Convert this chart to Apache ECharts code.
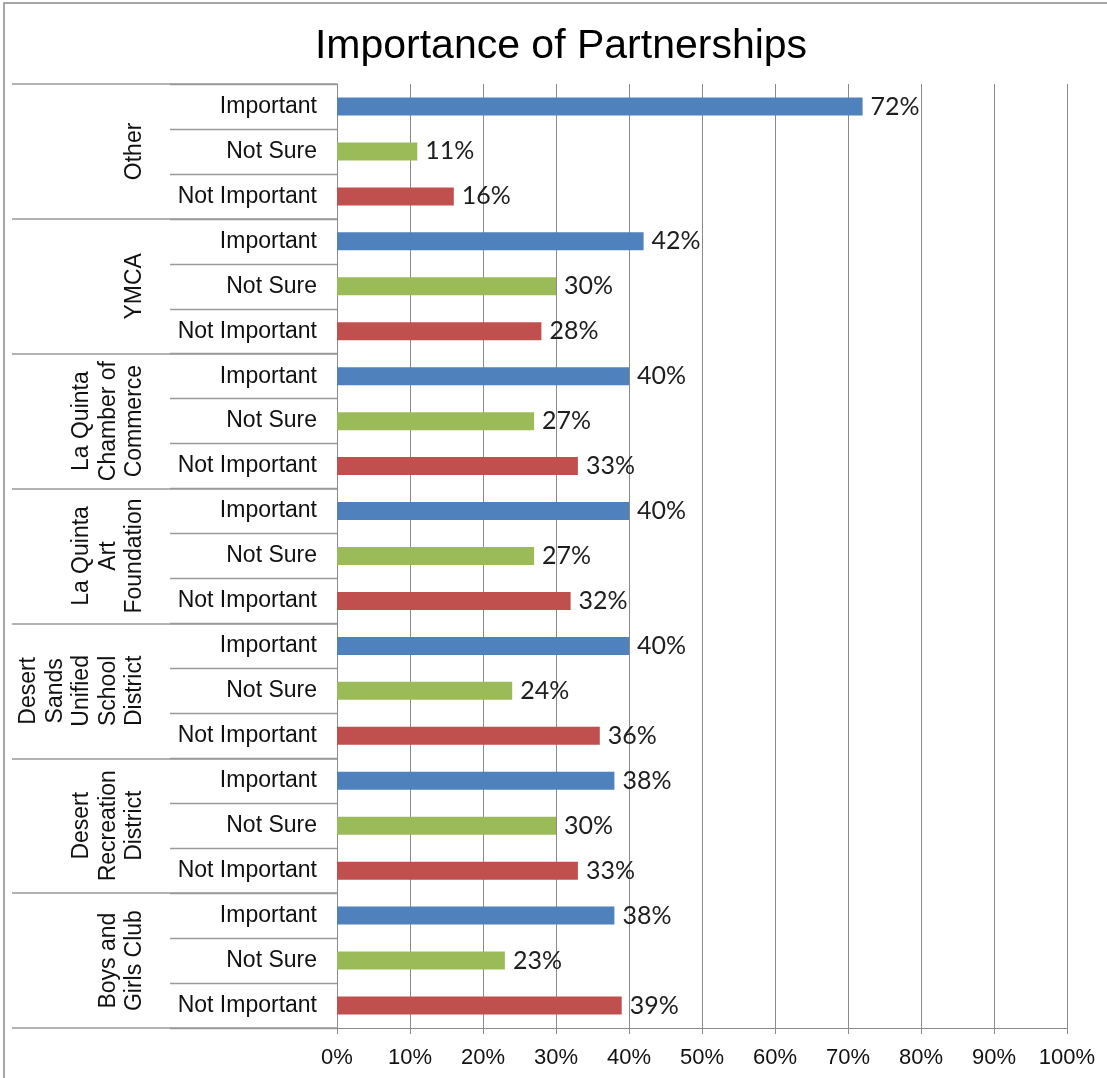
<!DOCTYPE html>
<html>
<head>
<meta charset="utf-8">
<script src="https://cdn.jsdelivr.net/npm/echarts@6/dist/echarts.min.js"></script>
<style>
html,body{margin:0;padding:0;background:#fff;}
#chart{width:1107px;height:1078px;}
</style>
</head>
<body>
<div id="chart"></div>
<script>
// Data (top to bottom)
var groups = ['Other', 'YMCA', 'La Quinta\nChamber of\nCommerce', 'La Quinta\nArt\nFoundation',
  'Desert\nSands\nUnified\nSchool\nDistrict', 'Desert\nRecreation\nDistrict', 'Boys and\nGirls Club'];
var responses = ['Important', 'Not Sure', 'Not Important'];
var important    = [72, 42, 40, 40, 40, 38, 38];
var notSure      = [11, 30, 27, 27, 24, 30, 23];
var notImportant = [16, 28, 33, 32, 36, 33, 39];
var xTicks = [0, 10, 20, 30, 40, 50, 60, 70, 80, 90, 100];

var categories = [];
groups.forEach(function (g) { responses.forEach(function (r) { categories.push(r); }); });

function seriesData(values, idx) {
  var out = [];
  values.forEach(function (v) {
    for (var k = 0; k < 3; k++) out.push(k === idx ? v : '-');
  });
  return out;
}

var labelStyle = {
  show: true, position: 'right', distance: 8,
  formatter: '{c}%', fontFamily: 'Lato', fontSize: 25, color: '#1e1e1e'
};

var chart = echarts.init(document.getElementById('chart'), null, {renderer: 'canvas'});
chart.setOption({
  animation: false,
  backgroundColor: '#fff',
  title: {
    text: 'Importance of Partnerships',
    left: 556, top: 21, textAlign: 'center',
    textStyle: {fontFamily: 'Liberation Sans', fontSize: 41, fontWeight: 'normal', color: '#000'}
  },
  graphic: [{
    type: 'rect', shape: {x: 4, y: 3, width: 1300, height: 1300},
    style: {fill: 'none', stroke: '#8a8a8a', lineWidth: 1.5}, silent: true
  }],
  grid: {left: 337, top: 84, width: 730, height: 944, containLabel: false},
  xAxis: {
    type: 'value', min: 0, max: 100, interval: 10,
    axisLine: {show: true, lineStyle: {color: '#8a8a8a', width: 1}},
    axisTick: {show: true, length: 6, lineStyle: {color: '#8a8a8a'}},
    splitLine: {show: true, lineStyle: {color: '#8a8a8a', width: 1}},
    axisLabel: {
      margin: 19, fontFamily: 'Liberation Sans', fontSize: 22, color: '#111',
      formatter: function (v) { return xTicks.indexOf(v) >= 0 ? v + '%' : ''; }
    }
  },
  yAxis: [{
    type: 'category', data: categories, inverse: true, position: 'left',
    axisLine: {show: true, lineStyle: {color: '#8a8a8a', width: 1}},
    axisTick: {show: true, interval: 0, length: 167, lineStyle: {color: '#9a9a9a', width: 1.3}},
    axisLabel: {interval: 0, margin: 20, fontFamily: 'Liberation Sans', fontSize: 23, color: '#111'}
  }, {
    type: 'category', data: groups, inverse: true, position: 'left', offset: 0,
    axisLine: {show: false},
    axisTick: {show: true, interval: 0, length: 325, lineStyle: {color: '#9a9a9a', width: 1.5}},
    axisLabel: {interval: 0, rotate: 90, margin: 189, fontFamily: 'Liberation Sans', fontSize: 23,
      lineHeight: 26.5, color: '#111'}
  }],
  series: [{
    name: 'Important', type: 'bar', yAxisIndex: 0, barWidth: 18, barGap: '-100%',
    itemStyle: {color: '#4F81BD'}, label: labelStyle, data: seriesData(important, 0)
  }, {
    name: 'Not Sure', type: 'bar', yAxisIndex: 0, barWidth: 18, barGap: '-100%',
    itemStyle: {color: '#9BBB59'}, label: labelStyle, data: seriesData(notSure, 1)
  }, {
    name: 'Not Important', type: 'bar', yAxisIndex: 0, barWidth: 18, barGap: '-100%',
    itemStyle: {color: '#C0504D'}, label: labelStyle, data: seriesData(notImportant, 2)
  }]
});
</script>
</body>
</html>
